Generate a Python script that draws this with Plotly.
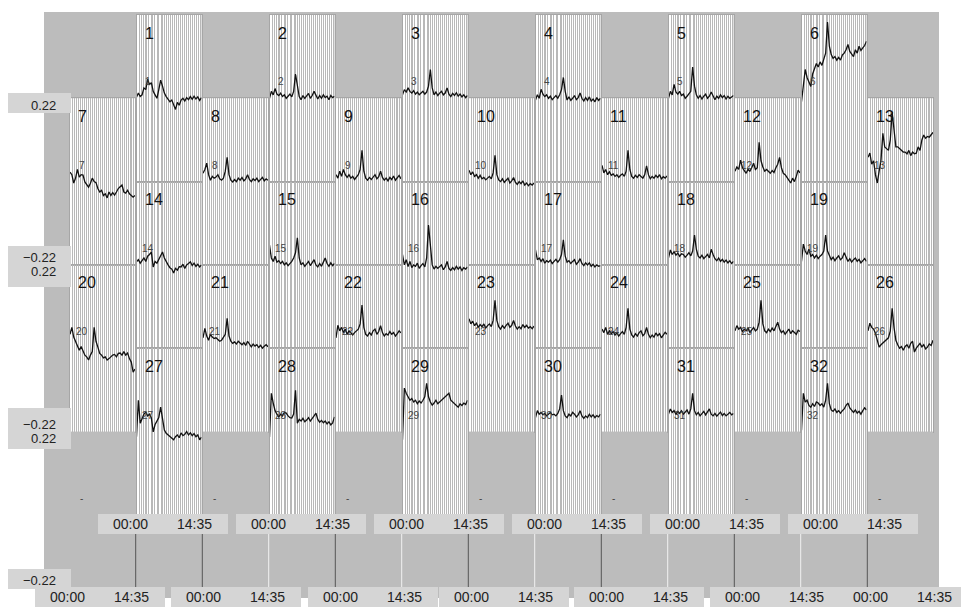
import plotly.graph_objects as go

W, H = 961, 607

# sample times in minutes from 00:00 to 14:35
TIMES = [0, 25, 50, 75, 100, 125, 150, 175, 200, 225, 250, 275, 300, 325, 350, 375, 400, 425,
         450, 475, 500, 525, 550, 575, 600, 625, 650, 675, 700, 725, 750, 775, 800, 825, 850, 875]
# vertical reference lines drawn inside every panel
GRID_TIMES = [8, 36, 62, 90, 118, 140, 168, 196, 222, 248, 276, 300, 330, 356, 382, 410, 436,
              462, 490, 516, 540, 568, 596, 622, 648, 676, 702, 728, 756, 782, 808, 834, 860]

TIME_START, TIME_END = "00:00", "14:35"
Y_TICK_TOP, Y_TICK_BOTTOM = 0.22, -0.22
Y_RANGE = [-0.24, 0.24]

S1 = [0.003, 0.015, 0.005, 0.01, 0.03, 0.025, 0.055, 0.04, 0.045, 0.02, 0.01, 0.0, 0.025, 0.052, 0.035, 0.015, 0.005, -0.002,
      -0.01, -0.005, -0.02, -0.032, -0.012, -0.02, -0.005, 0.0, -0.008, 0.002, -0.004, 0.005, -0.003, 0.006, -0.002, 0.004, -0.006, 0.002]
S2 = [0.0, 0.02, 0.01, 0.028, 0.012, 0.008, 0.015, 0.005, 0.01, 0.0, 0.006, 0.012, 0.004, 0.02, 0.07, 0.03, 0.005, -0.004,
      0.008, 0.0, 0.006, 0.014, 0.0, 0.008, 0.02, 0.006, -0.002, 0.008, 0.0, 0.01, 0.002, 0.006, -0.004, 0.008, 0.002, 0.006]
S3 = [0.01, 0.025, 0.018, 0.03, 0.02, 0.015, 0.022, 0.012, 0.018, 0.01, 0.015, 0.02, 0.012, 0.018, 0.035, 0.083, 0.03, 0.01,
      0.018, 0.008, 0.015, 0.02, 0.01, 0.015, 0.03, 0.012, 0.005, 0.014, 0.008, 0.016, 0.006, 0.012, 0.004, 0.01, 0.002, 0.008]
S4 = [-0.005, 0.01, 0.0, 0.026, 0.012, 0.005, 0.01, 0.0, 0.006, -0.004, 0.002, 0.008, 0.0, 0.01, 0.025, 0.06, 0.02, -0.005,
      0.004, -0.006, 0.0, 0.008, -0.004, 0.002, 0.015, 0.0, -0.008, 0.002, -0.006, 0.004, -0.008, -0.002, -0.01, 0.002, -0.006, 0.0]
S5 = [0.0, 0.02, 0.01, 0.04, 0.018, 0.012, 0.02, 0.008, 0.012, 0.0, 0.006, 0.012, 0.02, 0.09, 0.035, 0.01, 0.0, 0.008,
      -0.002, 0.006, 0.012, 0.0, 0.006, 0.018, 0.004, -0.004, 0.006, 0.0, 0.01, 0.002, 0.008, -0.002, 0.006, 0.0, 0.004, 0.008]
S6 = [-0.01, 0.04, 0.083, 0.06, 0.045, 0.034, 0.07, 0.085, 0.1, 0.09, 0.105, 0.095, 0.11, 0.13, 0.22, 0.15, 0.126, 0.115,
      0.12, 0.11, 0.118, 0.11, 0.125, 0.13, 0.14, 0.155, 0.135, 0.128, 0.12, 0.14, 0.13, 0.15, 0.138, 0.145, 0.152, 0.164]
S7 = [0.027, 0.02, -0.004, 0.01, 0.035, 0.013, 0.02, 0.019, -0.001, -0.01, -0.016, -0.005, 0.01, 0.0, -0.003, -0.02, -0.03, -0.025,
      -0.04, -0.035, -0.047, -0.03, -0.04, -0.032, -0.039, -0.03, -0.02, -0.015, -0.01, -0.03, -0.033, -0.025, -0.035, -0.04, -0.045, -0.04]
S8 = [0.024, 0.035, 0.053, 0.02, 0.004, 0.015, 0.01, 0.013, 0.02, 0.008, 0.004, 0.01, 0.03, 0.07, 0.02, 0.004, -0.001, 0.006,
      0.0, 0.01, 0.004, 0.012, 0.002, 0.008, 0.02, 0.006, 0.0, 0.008, 0.003, 0.01, 0.0, 0.006, 0.012, 0.002, 0.008, 0.004]
S9 = [0.02, 0.01, 0.03, 0.015, 0.035, 0.02, 0.012, 0.02, 0.01, 0.015, 0.006, 0.012, 0.02, 0.035, 0.09, 0.03, 0.01, 0.004,
      0.012, 0.006, 0.014, 0.02, 0.008, 0.014, 0.03, 0.012, 0.004, 0.01, 0.002, 0.012, 0.006, 0.016, 0.004, 0.01, 0.018, 0.008]
S10 = [0.033, 0.02, 0.028, 0.015, 0.02, 0.01, 0.018, 0.008, 0.012, 0.005, 0.01, 0.015, 0.008, 0.025, 0.076, 0.02, 0.005, 0.0,
       0.008, -0.002, 0.004, 0.01, -0.004, 0.002, 0.012, -0.002, -0.008, 0.0, -0.006, 0.002, -0.01, -0.004, -0.012, -0.006, -0.01, -0.004]
S11 = [0.047, 0.025, 0.035, 0.02, 0.028, 0.018, 0.022, 0.015, 0.02, 0.012, 0.018, 0.022, 0.015, 0.03, 0.09, 0.035, 0.015, 0.01,
       0.018, 0.012, 0.02, 0.015, 0.01, 0.02, 0.045, 0.02, 0.008, 0.015, 0.01, 0.018, 0.012, 0.02, 0.008, 0.014, 0.01, 0.016]
S12 = [0.03, 0.042, 0.035, 0.062, 0.04, 0.03, 0.024, 0.035, 0.03, 0.04, 0.053, 0.035, 0.04, 0.113, 0.06, 0.042, 0.03, 0.035,
       0.028, 0.024, 0.032, 0.026, 0.04, 0.05, 0.07, 0.04, 0.024, 0.02, 0.012, 0.005, -0.004, 0.01, 0.0, 0.015, 0.033, 0.025]
S13 = [0.07, 0.082, 0.05, 0.06, 0.02, -0.004, 0.03, 0.062, 0.139, 0.1, 0.095, 0.09, 0.12, 0.2, 0.15, 0.1, 0.1, 0.095,
       0.09, 0.085, 0.085, 0.08, 0.09, 0.075, 0.085, 0.08, 0.082, 0.1, 0.09, 0.12, 0.134, 0.125, 0.13, 0.128, 0.135, 0.142]
S14 = [0.009, 0.015, 0.005, 0.012, 0.02, 0.01, 0.025, 0.03, 0.037, -0.006, 0.01, 0.005, 0.015, 0.025, 0.037, 0.02, 0.008, 0.0,
       -0.008, -0.012, -0.023, -0.01, -0.015, -0.005, -0.006, 0.002, -0.01, 0.0, 0.004, 0.009, -0.002, 0.005, -0.004, 0.002, -0.006, 0.0]
S15 = [0.057, 0.02, 0.01, 0.025, 0.008, 0.012, 0.004, 0.01, 0.0, 0.006, -0.002, 0.004, 0.01, 0.02, 0.035, 0.078, 0.02, 0.0,
       0.006, -0.004, 0.004, 0.01, -0.002, 0.006, 0.015, 0.0, -0.006, 0.004, -0.004, 0.008, 0.02, 0.004, -0.004, 0.006, -0.002, 0.004]
S16 = [0.03, 0.0, 0.015, -0.005, 0.01, -0.008, 0.0, -0.004, 0.005, -0.01, -0.002, 0.004, -0.006, 0.02, 0.115, 0.05, 0.0, -0.012,
       -0.004, -0.01, -0.006, 0.0, -0.014, -0.006, 0.01, -0.01, -0.016, -0.008, -0.014, -0.004, -0.012, -0.006, -0.016, -0.008, -0.012, -0.006]
S17 = [0.043, 0.015, 0.02, 0.01, 0.018, 0.005, 0.012, 0.008, 0.014, 0.004, 0.01, 0.016, 0.008, 0.015, 0.03, 0.072, 0.025, 0.008,
       0.012, 0.004, 0.01, 0.015, 0.002, 0.008, 0.018, 0.004, -0.002, 0.006, 0.0, 0.006, -0.004, 0.002, -0.006, 0.0, -0.004, -0.002]
S18 = [0.02, 0.043, 0.03, 0.038, 0.028, 0.034, 0.025, 0.032, 0.03, 0.022, 0.028, 0.035, 0.026, 0.04, 0.086, 0.045, 0.025, 0.02,
       0.028, 0.018, 0.024, 0.03, 0.02, 0.045, 0.03, 0.018, 0.012, 0.02, 0.01, 0.016, 0.008, 0.014, 0.006, 0.012, 0.004, 0.01]
S19 = [0.01, 0.06, 0.04, 0.03, 0.045, 0.025, 0.03, 0.02, 0.028, 0.018, 0.025, 0.03, 0.04, 0.086, 0.04, 0.025, 0.015, 0.022,
       0.012, 0.02, 0.026, 0.015, 0.02, 0.035, 0.02, 0.01, 0.018, 0.008, 0.015, 0.02, 0.01, 0.016, 0.006, 0.012, 0.018, 0.01]
S20 = [0.04, 0.06, 0.032, 0.02, 0.01, -0.006, 0.005, -0.01, -0.02, -0.025, -0.034, -0.02, -0.01, 0.06, 0.02, 0.003, -0.015, -0.02,
       -0.028, -0.025, -0.034, -0.03, -0.025, -0.02, -0.018, -0.025, -0.015, -0.014, -0.02, -0.01, -0.02, -0.014, -0.03, -0.04, -0.069, -0.06]
S21 = [0.03, 0.057, 0.035, 0.023, 0.04, 0.032, 0.028, 0.03, 0.025, 0.02, 0.023, 0.03, 0.04, 0.086, 0.035, 0.02, 0.014, 0.018,
       0.012, 0.02, 0.014, 0.01, 0.016, 0.008, 0.02, 0.01, 0.004, 0.012, 0.006, 0.01, 0.002, 0.008, 0.0, 0.006, 0.01, 0.004]
S22 = [0.03, 0.066, 0.05, 0.06, 0.045, 0.055, 0.04, 0.05, 0.045, 0.038, 0.045, 0.05, 0.055, 0.07, 0.124, 0.06, 0.04, 0.035,
       0.045, 0.038, 0.05, 0.055, 0.04, 0.048, 0.065, 0.045, 0.035, 0.042, 0.038, 0.048, 0.04, 0.045, 0.035, 0.042, 0.05, 0.044]
S23 = [0.085, 0.07, 0.078, 0.065, 0.072, 0.06, 0.068, 0.062, 0.07, 0.058, 0.065, 0.07, 0.062, 0.08, 0.138, 0.08, 0.062, 0.055,
       0.065, 0.058, 0.066, 0.072, 0.06, 0.066, 0.08, 0.064, 0.055, 0.062, 0.056, 0.068, 0.06, 0.066, 0.058, 0.062, 0.056, 0.064]
S24 = [0.055, 0.045, 0.06, 0.04, 0.05, 0.042, 0.048, 0.038, 0.044, 0.035, 0.042, 0.048, 0.04, 0.06, 0.115, 0.055, 0.038, 0.032,
       0.042, 0.035, 0.045, 0.05, 0.036, 0.042, 0.06, 0.04, 0.03, 0.038, 0.032, 0.044, 0.036, 0.042, 0.03, 0.038, 0.046, 0.04]
S25 = [0.05, 0.065, 0.055, 0.06, 0.048, 0.055, 0.05, 0.058, 0.045, 0.052, 0.06, 0.05, 0.055, 0.075, 0.138, 0.07, 0.05, 0.045,
       0.055, 0.048, 0.058, 0.05, 0.062, 0.075, 0.055, 0.045, 0.05, 0.04, 0.048, 0.055, 0.042, 0.05, 0.045, 0.04, 0.052, 0.048]
S26 = [0.05, 0.072, 0.06, 0.055, 0.043, 0.02, 0.003, 0.01, 0.015, 0.02, 0.023, 0.03, 0.05, 0.115, 0.06, 0.023, 0.01, 0.0,
       0.005, -0.006, 0.005, 0.01, 0.0, 0.014, 0.02, -0.011, 0.0, 0.008, 0.014, 0.004, 0.01, -0.002, 0.003, 0.012, 0.008, 0.023]
S27 = [-0.015, 0.09, 0.024, 0.04, 0.05, 0.056, 0.045, 0.05, 0.039, -0.001, 0.02, 0.03, 0.04, 0.07, 0.03, 0.004, -0.005, -0.01,
       -0.015, -0.02, -0.024, -0.015, -0.01, -0.018, -0.004, -0.012, -0.008, 0.0, -0.01, -0.004, -0.012, -0.006, -0.015, -0.01, -0.024, -0.016]
S28 = [-0.016, 0.11, 0.082, 0.06, 0.05, 0.042, 0.05, 0.045, 0.055, 0.053, 0.045, 0.04, 0.039, 0.05, 0.119, 0.024, 0.035, 0.03,
       0.038, 0.028, 0.033, 0.04, 0.03, 0.036, 0.045, 0.053, 0.035, 0.027, 0.032, 0.025, 0.03, 0.022, 0.028, 0.019, 0.025, 0.042]
S29 = [-0.024, 0.125, 0.11, 0.1, 0.09, 0.095, 0.085, 0.09, 0.08, 0.088, 0.082, 0.09, 0.1, 0.139, 0.1, 0.085, 0.076, 0.082,
       0.09, 0.08, 0.085, 0.09, 0.095, 0.1, 0.105, 0.11, 0.09, 0.085, 0.08, 0.075, 0.07, 0.08, 0.075, 0.082, 0.078, 0.09]
S30 = [0.04, 0.06, 0.05, 0.055, 0.048, 0.052, 0.045, 0.05, 0.055, 0.048, 0.05, 0.045, 0.052, 0.065, 0.105, 0.06, 0.045, 0.04,
       0.05, 0.045, 0.055, 0.05, 0.042, 0.048, 0.06, 0.045, 0.038, 0.045, 0.04, 0.05, 0.042, 0.048, 0.04, 0.046, 0.042, 0.05]
S31 = [0.05, 0.065, 0.055, 0.06, 0.05, 0.058, 0.052, 0.06, 0.05, 0.055, 0.062, 0.05, 0.065, 0.11, 0.06, 0.048, 0.055, 0.045,
       0.052, 0.058, 0.048, 0.055, 0.065, 0.05, 0.045, 0.052, 0.044, 0.05, 0.056, 0.046, 0.052, 0.045, 0.05, 0.055, 0.048, 0.052]
S32 = [0.004, 0.11, 0.085, 0.09, 0.075, 0.07, 0.08, 0.072, 0.085, 0.082, 0.075, 0.08, 0.07, 0.09, 0.139, 0.08, 0.062, 0.058,
       0.065, 0.055, 0.06, 0.053, 0.06, 0.065, 0.075, 0.082, 0.068, 0.06, 0.055, 0.062, 0.053, 0.058, 0.05, 0.06, 0.068, 0.062]

SERIES = [S1, S2, S3, S4, S5, S6, S7, S8, S9, S10, S11, S12, S13, S14, S15, S16,
          S17, S18, S19, S20, S21, S22, S23, S24, S25, S26, S27, S28, S29, S30, S31, S32]
PANEL_NAMES = [str(i) for i in range(1, 33)]
EMPTY_NAME = "-"

# ---- styling / geometry (pixels) ----
FONT = "Liberation Sans, Arial, sans-serif"
BG = "#bcbcbc"
BOX = "#d5d5d5"
GRID = "#b8b8b8"
BORDER = "#a6a6a6"
COL_LEFT0, COL_STEP, COL_W = 70.0, 66.5, 65.0
ROW_H = 166.6
TOP0 = 15.0
ODD_COLS = [1, 3, 5, 7, 9, 11, 13]
EVEN_COLS = [2, 4, 6, 8, 10, 12]


def px_x(v):
    return v / W


def px_y(v):
    return 1 - v / H


def col_left(c):
    return COL_LEFT0 + (c - 1) * COL_STEP


# panel placement: (series index or None, column, half-row)
slots = []
k = 0
for half_row, cols in [(0, EVEN_COLS), (1, ODD_COLS), (2, EVEN_COLS), (3, ODD_COLS), (4, EVEN_COLS)]:
    for c in cols:
        slots.append((k, c, half_row))
        k += 1
for c in ODD_COLS:
    slots.append((None, c, 5))

fig = go.Figure()
layout = dict(
    width=W, height=H, autosize=False,
    margin=dict(l=0, r=0, t=0, b=0),
    paper_bgcolor=BG, plot_bgcolor="white",
    showlegend=False, font=dict(family=FONT, color="#222"),
)
shapes = []
annotations = []

# white surround outside the grey field
for x0, y0, x1, y1 in [(0, 0, W, 12), (0, 0, 44, H), (939, 0, W, H), (0, 598, W, H)]:
    shapes.append(dict(type="rect", xref="paper", yref="paper", x0=px_x(x0), x1=px_x(x1),
                       y0=px_y(y1), y1=px_y(y0), fillcolor="white", line=dict(width=0), layer="below"))

for n, (si, c, hr) in enumerate(slots, start=1):
    left = col_left(c)
    top = TOP0 + hr * ROW_H / 2
    xa = "xaxis" if n == 1 else f"xaxis{n}"
    ya = "yaxis" if n == 1 else f"yaxis{n}"
    xr = "x" if n == 1 else f"x{n}"
    yr = "y" if n == 1 else f"y{n}"
    empty = si is None
    layout[xa] = dict(domain=[px_x(left), px_x(left + COL_W)], range=[0, 875], anchor=yr,
                      tickvals=GRID_TIMES, showticklabels=False, ticks="",
                      showgrid=not empty, gridcolor=GRID, gridwidth=1.4, zeroline=False,
                      showline=not empty, mirror=True, linecolor=BORDER, linewidth=1, fixedrange=True)
    layout[ya] = dict(domain=[px_y(top + ROW_H), px_y(top)], range=Y_RANGE, anchor=xr,
                      showticklabels=False, ticks="", showgrid=False, zeroline=False,
                      showline=not empty, mirror=True, linecolor=BORDER, linewidth=1, fixedrange=True)
    if empty:
        fig.add_trace(go.Scatter(x=[], y=[], xaxis=xr, yaxis=yr, hoverinfo="skip"))
        shapes.append(dict(type="rect", xref=xr, yref=yr, x0=0, x1=875, y0=Y_RANGE[0], y1=Y_RANGE[1],
                           fillcolor=BG, line=dict(width=0), layer="below"))
        small = EMPTY_NAME
    else:
        fig.add_trace(go.Scatter(x=TIMES, y=SERIES[si], xaxis=xr, yaxis=yr, mode="lines",
                                 line=dict(color="#111111", width=1.3), hoverinfo="skip"))
        annotations.append(dict(xref=xr, yref=yr, x=81, y=0.188, text=PANEL_NAMES[si], showarrow=False,
                                xanchor="left", yanchor="middle", font=dict(size=16, color="#111")))
        small = PANEL_NAMES[si]
    annotations.append(dict(xref=xr, yref=yr, x=155, y=0.047, text=small, showarrow=False,
                            xanchor="center", yanchor="middle", font=dict(size=10, color="#444")))

    # value labels on the leftmost column
    if c == 1:
        for val, shift in [(Y_TICK_TOP, 0), (Y_TICK_BOTTOM, 11 if empty else 0)]:
            annotations.append(dict(xref="paper", yref=yr, x=px_x(58), y=val, yshift=shift,
                                    text=f"{val:.2f}".replace("-", "\u2212"), showarrow=False,
                                    xanchor="right", yanchor="middle", font=dict(size=13, color="#222")))

# boxes behind the value labels
for y0, y1 in [(93, 113), (246, 287), (408, 449), (569, 589)]:
    shapes.append(dict(type="rect", xref="paper", yref="paper", x0=px_x(8), x1=px_x(71),
                       y0=px_y(y1), y1=px_y(y0), fillcolor=BOX, line=dict(width=0), layer="above"))

# separators under the lower panels
for c in EVEN_COLS:
    left = col_left(c)
    for xx, colr in [(left - 0.8, "#f2f2f2" if c != 2 else "#555"), (left + COL_W + 0.8, "#555")]:
        shapes.append(dict(type="line", xref="paper", yref="paper", x0=px_x(xx), x1=px_x(xx),
                           y0=px_y(587), y1=px_y(534), line=dict(color=colr, width=1), layer="above"))

# time labels
ODD_START = [67, 203, 340, 471, 606, 742, 870]
EVEN_START = [130, 268, 406, 544, 682, 820]
for starts, yc in [(ODD_START, 597), (EVEN_START, 524)]:
    for s in starts:
        shapes.append(dict(type="rect", xref="paper", yref="paper", x0=px_x(s - 32), x1=px_x(min(s + 98, W)),
                           y0=px_y(yc + 10), y1=px_y(yc - 10), fillcolor=BOX, line=dict(width=0), layer="above"))
        for xx, t in [(s, TIME_START), (s + 64, TIME_END)]:
            annotations.append(dict(xref="paper", yref="paper", x=px_x(xx), y=px_y(yc), text=t,
                                    showarrow=False, xanchor="center", yanchor="middle",
                                    font=dict(size=14, color="#222")))

layout["shapes"] = shapes
layout["annotations"] = annotations
fig.update_layout(**layout)
fig.write_html("out.html")
